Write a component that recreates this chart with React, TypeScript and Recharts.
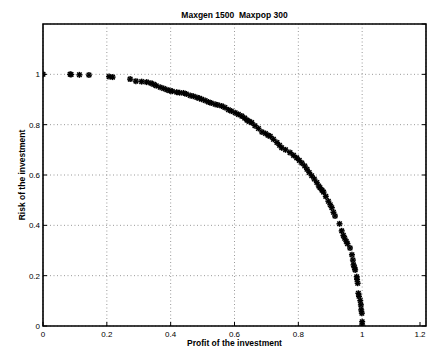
import { ScatterChart, Scatter, XAxis, YAxis, CartesianGrid, ReferenceArea } from 'recharts'

// Pareto front (profit vs risk)
const profit = [
  0, 0.085, 0.088, 0.114, 0.144, 0.207, 0.218, 0.273, 0.291, 0.309, 0.325, 0.338, 0.347, 0.355,
  0.367, 0.378, 0.388, 0.397, 0.405, 0.419, 0.428, 0.44, 0.449, 0.461, 0.471, 0.482, 0.49, 0.497,
  0.508, 0.518, 0.527, 0.539, 0.548, 0.56, 0.57, 0.581, 0.59, 0.602, 0.612, 0.623, 0.632, 0.639,
  0.646, 0.654, 0.664, 0.675, 0.686, 0.697, 0.705, 0.712, 0.722, 0.733, 0.741, 0.748, 0.76, 0.774,
  0.785, 0.795, 0.803, 0.811, 0.82, 0.827, 0.834, 0.842, 0.85, 0.858, 0.864, 0.868, 0.874, 0.879,
  0.886, 0.894, 0.9, 0.905, 0.91, 0.915, 0.929, 0.936, 0.941, 0.945, 0.95, 0.954, 0.962, 0.968,
  0.971, 0.973, 0.976, 0.978, 0.983, 0.984, 0.986, 0.988, 0.99, 0.994, 0.996, 0.997, 0.999, 1.0,
  1.0,
]
const risk = [
  1.0, 1.0, 0.999, 0.998, 0.997, 0.991, 0.989, 0.981, 0.973, 0.971, 0.969, 0.965, 0.96, 0.955,
  0.949, 0.944, 0.939, 0.935, 0.933, 0.929, 0.927, 0.926, 0.922, 0.916, 0.913, 0.908, 0.905, 0.901,
  0.896, 0.89, 0.886, 0.881, 0.878, 0.874, 0.868, 0.859, 0.854, 0.847, 0.841, 0.834, 0.826, 0.818,
  0.813, 0.808, 0.796, 0.785, 0.771, 0.765, 0.758, 0.754, 0.742, 0.729, 0.718, 0.708, 0.7, 0.689,
  0.678, 0.668, 0.658, 0.648, 0.636, 0.623, 0.61, 0.597, 0.584, 0.57, 0.556, 0.549, 0.54, 0.532,
  0.515, 0.496, 0.482, 0.47, 0.452, 0.437, 0.406, 0.378, 0.36, 0.349, 0.337, 0.327, 0.31, 0.283,
  0.262, 0.243, 0.232, 0.223, 0.196, 0.185, 0.17, 0.13, 0.118, 0.101, 0.084, 0.064, 0.051, 0.017,
  0.004,
]
const xTicks = [0, 0.2, 0.4, 0.6, 0.8, 1, 1.2]
const yTicks = [0, 0.2, 0.4, 0.6, 0.8, 1, 1.2]

const points = profit.map((p, i) => ({ profit: p, risk: risk[i] }))

const font = '"Liberation Sans", Arial, sans-serif'

function Star(props: any) {
  const { cx, cy } = props
  const r = 3
  const d = r * 0.75
  return (
    <g stroke="#000" strokeWidth={1.5}>
      <line x1={cx - r} y1={cy} x2={cx + r} y2={cy} />
      <line x1={cx} y1={cy - r} x2={cx} y2={cy + r} />
      <line x1={cx - d} y1={cy - d} x2={cx + d} y2={cy + d} />
      <line x1={cx - d} y1={cy + d} x2={cx + d} y2={cy - d} />
    </g>
  )
}

// ticks point into the plot box, like the original
function BottomTick(props: any) {
  const { x, y, payload } = props
  return (
    <g>
      <line x1={x} y1={y} x2={x} y2={y - 4} stroke="#000" />
      <text x={x} y={y + 11} textAnchor="middle" fontSize={8} fontFamily={font} fill="#000">
        {payload.value}
      </text>
    </g>
  )
}

function TopTick(props: any) {
  const { x, y } = props
  return <line x1={x} y1={y} x2={x} y2={y + 4} stroke="#000" />
}

function LeftTick(props: any) {
  const { x, y, payload } = props
  if (payload.value > 1.1) return <g />
  return (
    <g>
      <line x1={x} y1={y} x2={x + 4} y2={y} stroke="#000" />
      <text x={x - 3} y={y + 3} textAnchor="end" fontSize={8} fontFamily={font} fill="#000">
        {payload.value}
      </text>
    </g>
  )
}

function RightTick(props: any) {
  const { x, y } = props
  return <line x1={x} y1={y} x2={x - 4} y2={y} stroke="#000" />
}

const label = { fontSize: 8.5, fontWeight: 'bold' as const, lineHeight: '10px' }

export default function App() {
  return (
    <div style={{ position: 'absolute', left: 0, top: 0, width: 430, height: 350, background: '#fff', fontFamily: font }}>
      <ScatterChart width={430} height={350} margin={{ top: 0, right: 0, bottom: 0, left: 0 }}>
        <CartesianGrid stroke="#999" strokeDasharray="1 2.5" />
        <XAxis
          type="number"
          dataKey="profit"
          domain={[0, 1.2]}
          ticks={xTicks}
          height={24}
          tickSize={0}
          tickMargin={0}
          tick={<BottomTick />}
          axisLine={false}
          allowDataOverflow
        />
        <XAxis
          xAxisId="top"
          orientation="top"
          type="number"
          domain={[0, 1.2]}
          ticks={xTicks}
          height={24}
          tickSize={0}
          tickMargin={0}
          tick={<TopTick />}
          axisLine={false}
          allowDataOverflow
        />
        <YAxis
          type="number"
          dataKey="risk"
          domain={[0, 1.2]}
          ticks={yTicks}
          width={43}
          tickSize={0}
          tickMargin={0}
          tick={<LeftTick />}
          axisLine={false}
          allowDataOverflow
        />
        <YAxis
          yAxisId="right"
          orientation="right"
          type="number"
          domain={[0, 1.2]}
          ticks={yTicks}
          width={4}
          tickSize={0}
          tickMargin={0}
          tick={<RightTick />}
          axisLine={false}
          allowDataOverflow
        />
        <ReferenceArea x1={0} x2={1.2} y1={0} y2={1.2} fill="none" stroke="#000" strokeWidth={1.6} ifOverflow="visible" />
        <Scatter data={points} shape={<Star />} isAnimationActive={false} />
      </ScatterChart>
      <div style={{ ...label, position: 'absolute', left: 43, width: 383, top: 10, textAlign: 'center' }}>
        Maxgen 1500&nbsp;&nbsp;Maxpop 300
      </div>
      <div style={{ ...label, position: 'absolute', left: 43, width: 383, top: 338, textAlign: 'center' }}>
        Profit of the investment
      </div>
      <div
        style={{
          ...label,
          position: 'absolute',
          left: 22 - 150,
          top: 175 - 5,
          width: 300,
          textAlign: 'center',
          transform: 'rotate(-90deg)',
        }}
      >
        Risk of the investment
      </div>
    </div>
  )
}
